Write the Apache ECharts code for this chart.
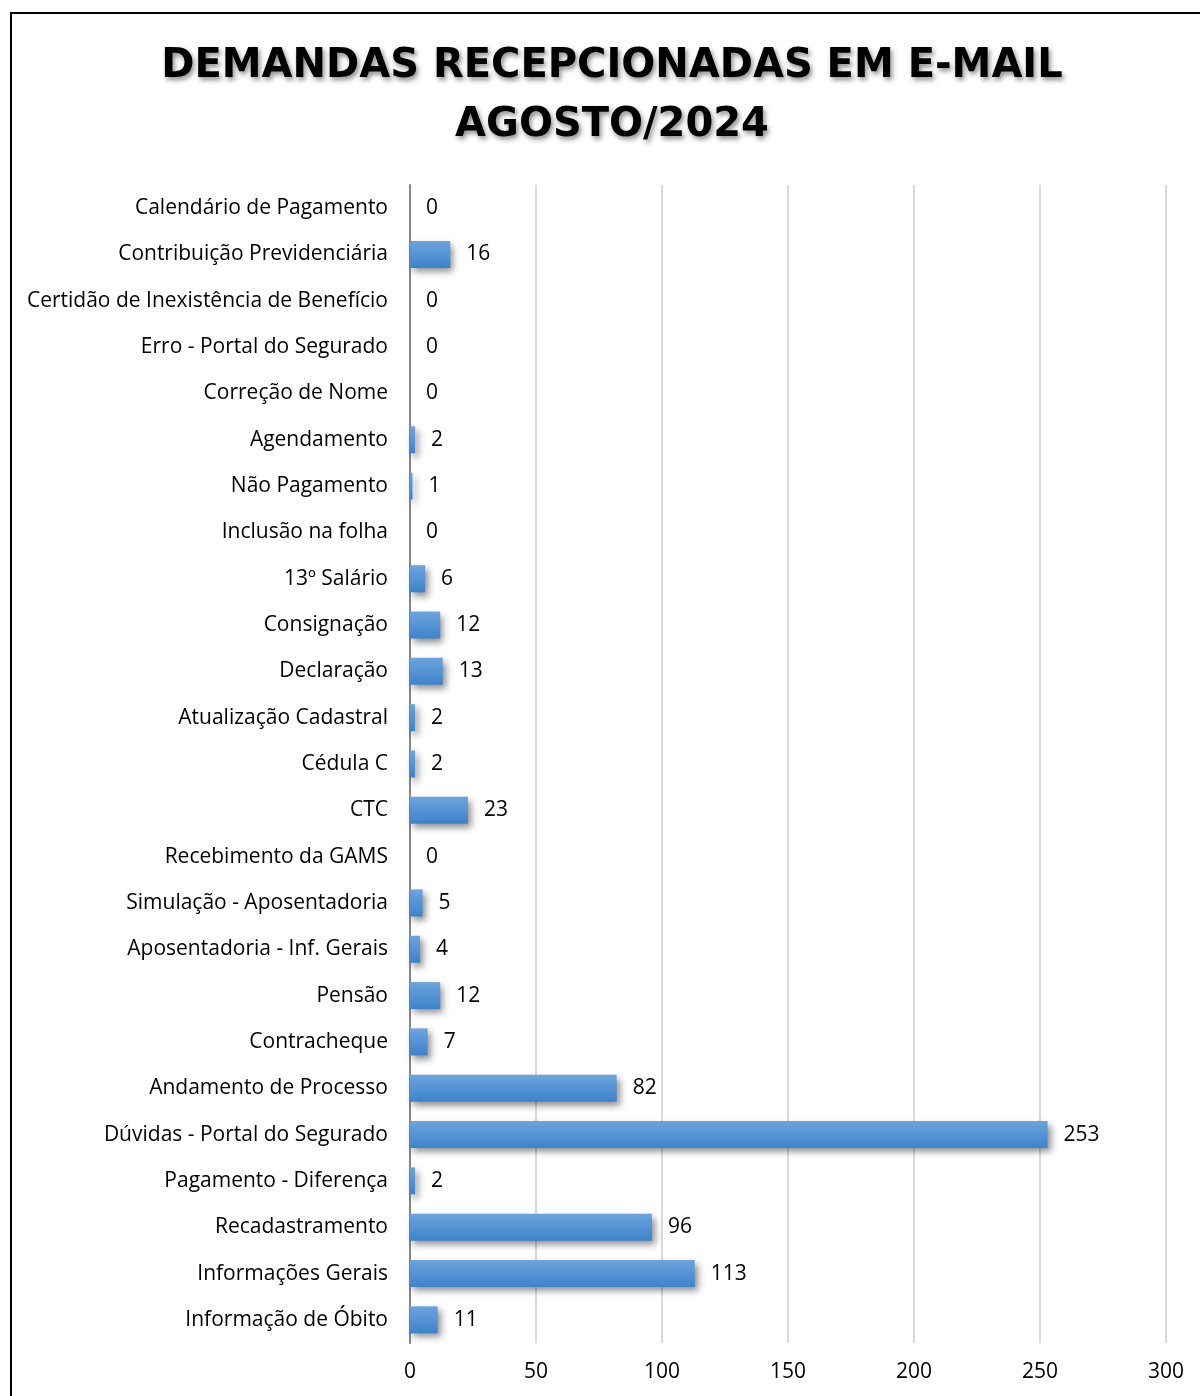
<!DOCTYPE html>
<html>
<head>
<meta charset="utf-8">
<script src="https://cdn.jsdelivr.net/npm/echarts@6/dist/echarts.min.js"></script>
<style>
  html, body { margin: 0; padding: 0; background: #fff; overflow: hidden; }
  #frame { position: absolute; left: 10px; top: 12px; width: 1400px; height: 1600px; border: 2px solid #000; }
  #chart { position: absolute; left: 0; top: 0; width: 1200px; height: 1396px; }
</style>
</head>
<body>
<div id="frame"></div>
<div id="chart"></div>
<script>
// dados do gráfico
const categorias = [
  "Calendário de Pagamento",
  "Contribuição Previdenciária",
  "Certidão de Inexistência de Benefício",
  "Erro - Portal do Segurado",
  "Correção de Nome",
  "Agendamento",
  "Não Pagamento",
  "Inclusão na folha",
  "13º Salário",
  "Consignação",
  "Declaração",
  "Atualização Cadastral",
  "Cédula C",
  "CTC",
  "Recebimento da GAMS",
  "Simulação - Aposentadoria",
  "Aposentadoria - Inf. Gerais",
  "Pensão",
  "Contracheque",
  "Andamento de Processo",
  "Dúvidas - Portal do Segurado",
  "Pagamento - Diferença",
  "Recadastramento",
  "Informações Gerais",
  "Informação de Óbito"
];
const quantidades = [0, 16, 0, 0, 0, 2, 1, 0, 6, 12, 13, 2, 2, 23, 0, 5, 4, 12, 7, 82, 253, 2, 96, 113, 11];
const titulo = "DEMANDAS RECEPCIONADAS EM E-MAIL\nAGOSTO/2024";

const fonte = "'Open Sans', 'Noto Sans', sans-serif";

const chart = echarts.init(document.getElementById("chart"));
chart.setOption({
  animation: false,
  title: {
    text: titulo,
    left: 607,
    top: 32,
    textAlign: "center",
    textStyle: {
      fontFamily: "'DejaVu Sans', sans-serif",
      fontWeight: "bold",
      fontSize: 40,
      lineHeight: 59,
      color: "#000",
      textShadowColor: "rgba(0,0,0,0.45)",
      textShadowBlur: 5,
      textShadowOffsetX: 2,
      textShadowOffsetY: 3
    }
  },
  grid: { left: 410, right: 34, top: 185, bottom: 53, containLabel: false },
  xAxis: {
    type: "value",
    min: 0,
    max: 300,
    interval: 50,
    axisLine: { show: false },
    axisTick: { show: false },
    splitLine: { lineStyle: { color: "#d9d9d9", width: 2 } },
    axisLabel: { color: "#000", fontFamily: fonte, fontSize: 21, margin: 19 }
  },
  yAxis: {
    type: "category",
    inverse: true,
    data: categorias,
    axisLine: { lineStyle: { color: "#868686", width: 2 } },
    axisTick: { show: false },
    axisLabel: { color: "#000", fontFamily: fonte, fontSize: 21, margin: 22 }
  },
  series: [{
    type: "bar",
    data: quantidades,
    barWidth: 27,
    itemStyle: {
      color: new echarts.graphic.LinearGradient(0, 0, 0, 1, [
        { offset: 0, color: "#6da4dd" },
        { offset: 1, color: "#3d83cb" }
      ]),
      shadowColor: "rgba(0,0,0,0.45)",
      shadowBlur: 7,
      shadowOffsetX: 3,
      shadowOffsetY: 4
    },
    label: {
      show: true,
      position: "right",
      distance: 16,
      color: "#000",
      fontFamily: fonte,
      fontSize: 21
    }
  }]
});
</script>
</body>
</html>
